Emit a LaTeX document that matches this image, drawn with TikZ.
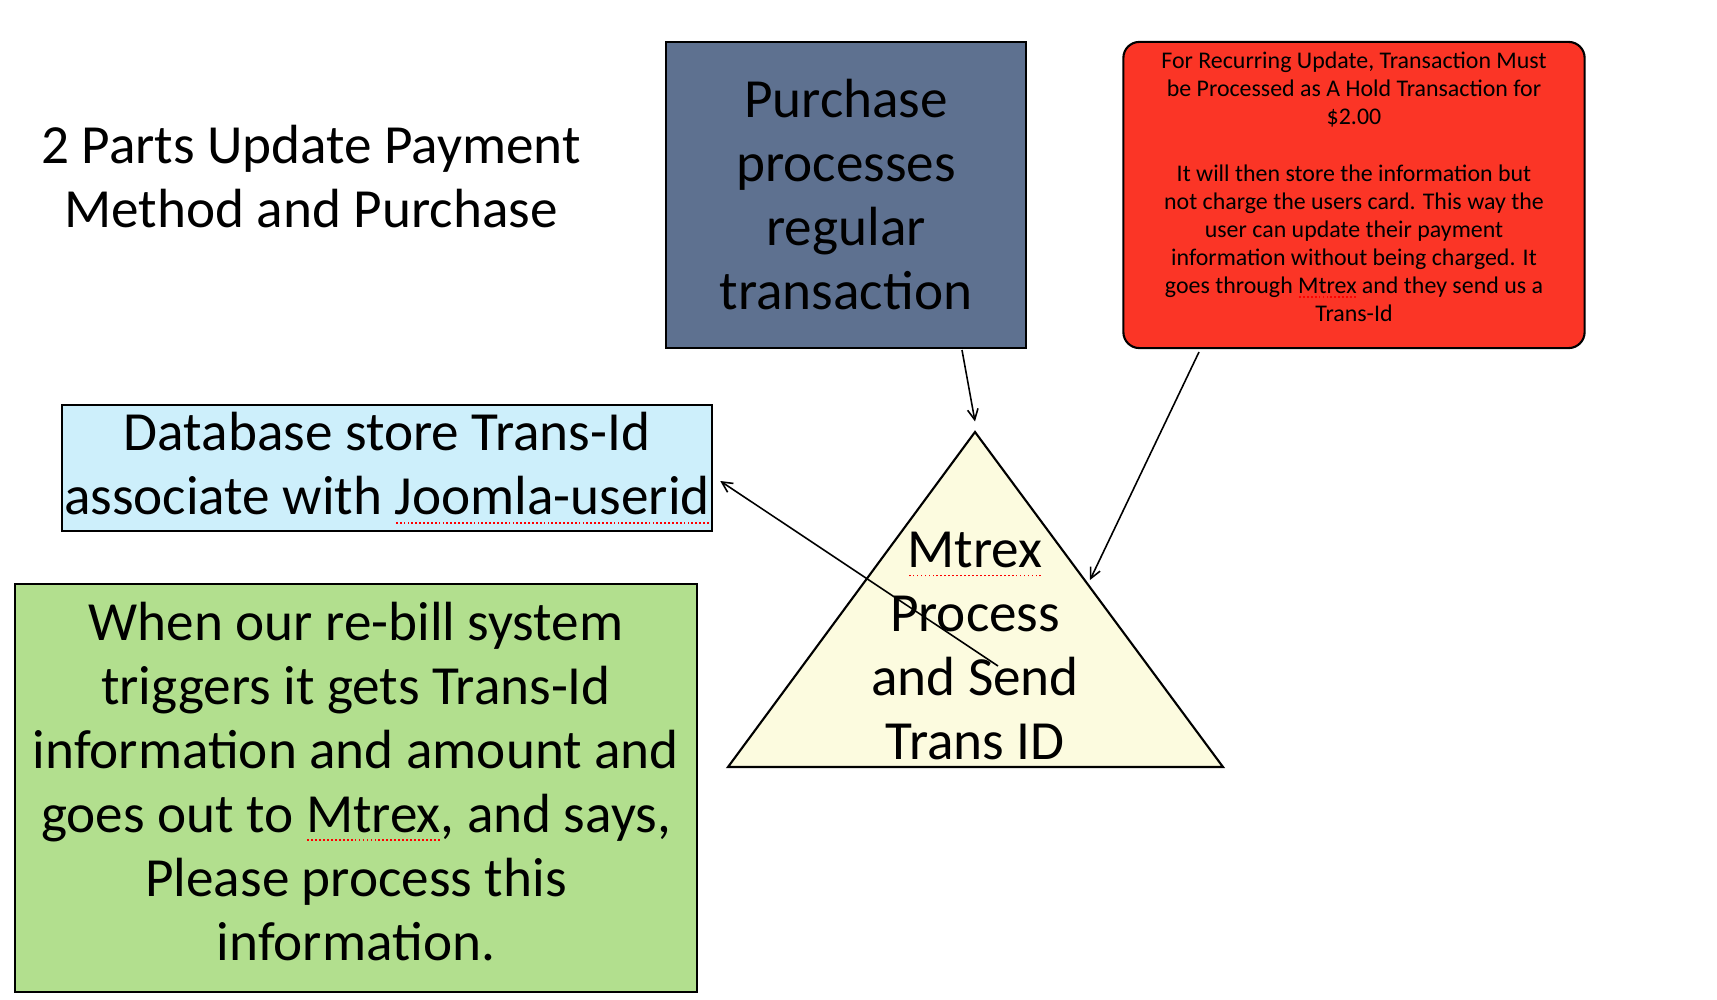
\documentclass[tikz,border=0pt]{standalone}
\usepackage{fontspec}
\setmainfont{Carlito}
\usepackage{xcolor}
\usetikzlibrary{arrows.meta}

\definecolor{slateblue}{HTML}{5E7190}
\definecolor{notered}{HTML}{FB3526}
\definecolor{dbblue}{HTML}{CDEFFB}
\definecolor{rebillgreen}{HTML}{B2DF8E}
\definecolor{mtrexcream}{HTML}{FCFBDF}

% red dotted spelling mark under a word
\newsavebox\spellbox
\newcommand\spellmark[1]{\leavevmode\sbox\spellbox{#1}%
  \rlap{\raisebox{-0.16em}{\textcolor{red}{\makebox[\wd\spellbox][l]{\xleaders\hbox{\kern0.3pt\rule{0.5pt}{0.5pt}\kern0.3pt}\hfill}}}}%
  \usebox\spellbox}
\newcommand\bigtext{\fontsize{15.7}{18.2}\selectfont}
\newcommand\smalltext{\fontsize{6.8}{8}\selectfont}

\begin{document}
\begin{tikzpicture}[x=0.01cm,y=-0.01cm,%
% common options for blocks:
block/.style = {draw, line width=0.6pt, align=center, inner sep=0,
            font=\bigtext},
% common options for the arrows:
link/.style = {line width=0.45pt, -{Straight Barb[length=3pt,width=3pt]}}]
\useasboundingbox (0,0) rectangle (1717,1000);
\node[align=center,font=\bigtext] (T0) at (311,177) {2 Parts Update Payment\\Method and Purchase};
\node[block, fill=slateblue, minimum width=3.60cm, minimum height=3.06cm] (P1) at (846,195) {Purchase\\processes\\regular\\transaction};
\node[block, fill=notered, rounded corners=0.16cm, font=\smalltext, text depth=4.6pt, minimum width=4.61cm, minimum height=3.06cm] (R1) at (1354,195) {For Recurring Update, Transaction Must\\be Processed as A Hold Transaction for\\\$2.00\\[8pt]It will then store the information but\\not charge the users card. This way the\\user can update their payment\\information without being charged. It\\goes through \spellmark{Mtrex} and they send us a\\Trans-Id};
\node[block, fill=dbblue, minimum width=6.50cm, minimum height=1.26cm] (D1) at (387,468) {Database store Trans-Id\\associate with \spellmark{Joomla-userid}};
\node[block, fill=rebillgreen, text depth=4pt, minimum width=6.82cm, minimum height=4.08cm] (G1) at (356,788) {When our re-bill system\\triggers it gets Trans-Id\\information and amount and\\goes out to \spellmark{Mtrex}, and says,\\Please process this\\information.};
\coordinate (M0) at (975,432);
\coordinate (M2) at (728,767);
\coordinate (M3) at (1223,767);
\draw[line width=0.6pt, fill=mtrexcream] (M0) -- (M2) -- (M3) -- cycle;
\node[align=center,font=\bigtext] (M1) at (975,646) {\spellmark{Mtrex}\\Process\\and Send\\Trans ID};
\coordinate (P2) at (962,350);
\coordinate (R2) at (1199,352);
\coordinate (M4) at (1090,580);
\coordinate (M5) at (998,666);
\draw[link] (P2) to ([yshift=3pt]M0);
\draw[link] (R2) to (M4);
\draw[link] (M5) to ([xshift=2pt]D1.east |- 0,481);
\end{tikzpicture}
\end{document}
